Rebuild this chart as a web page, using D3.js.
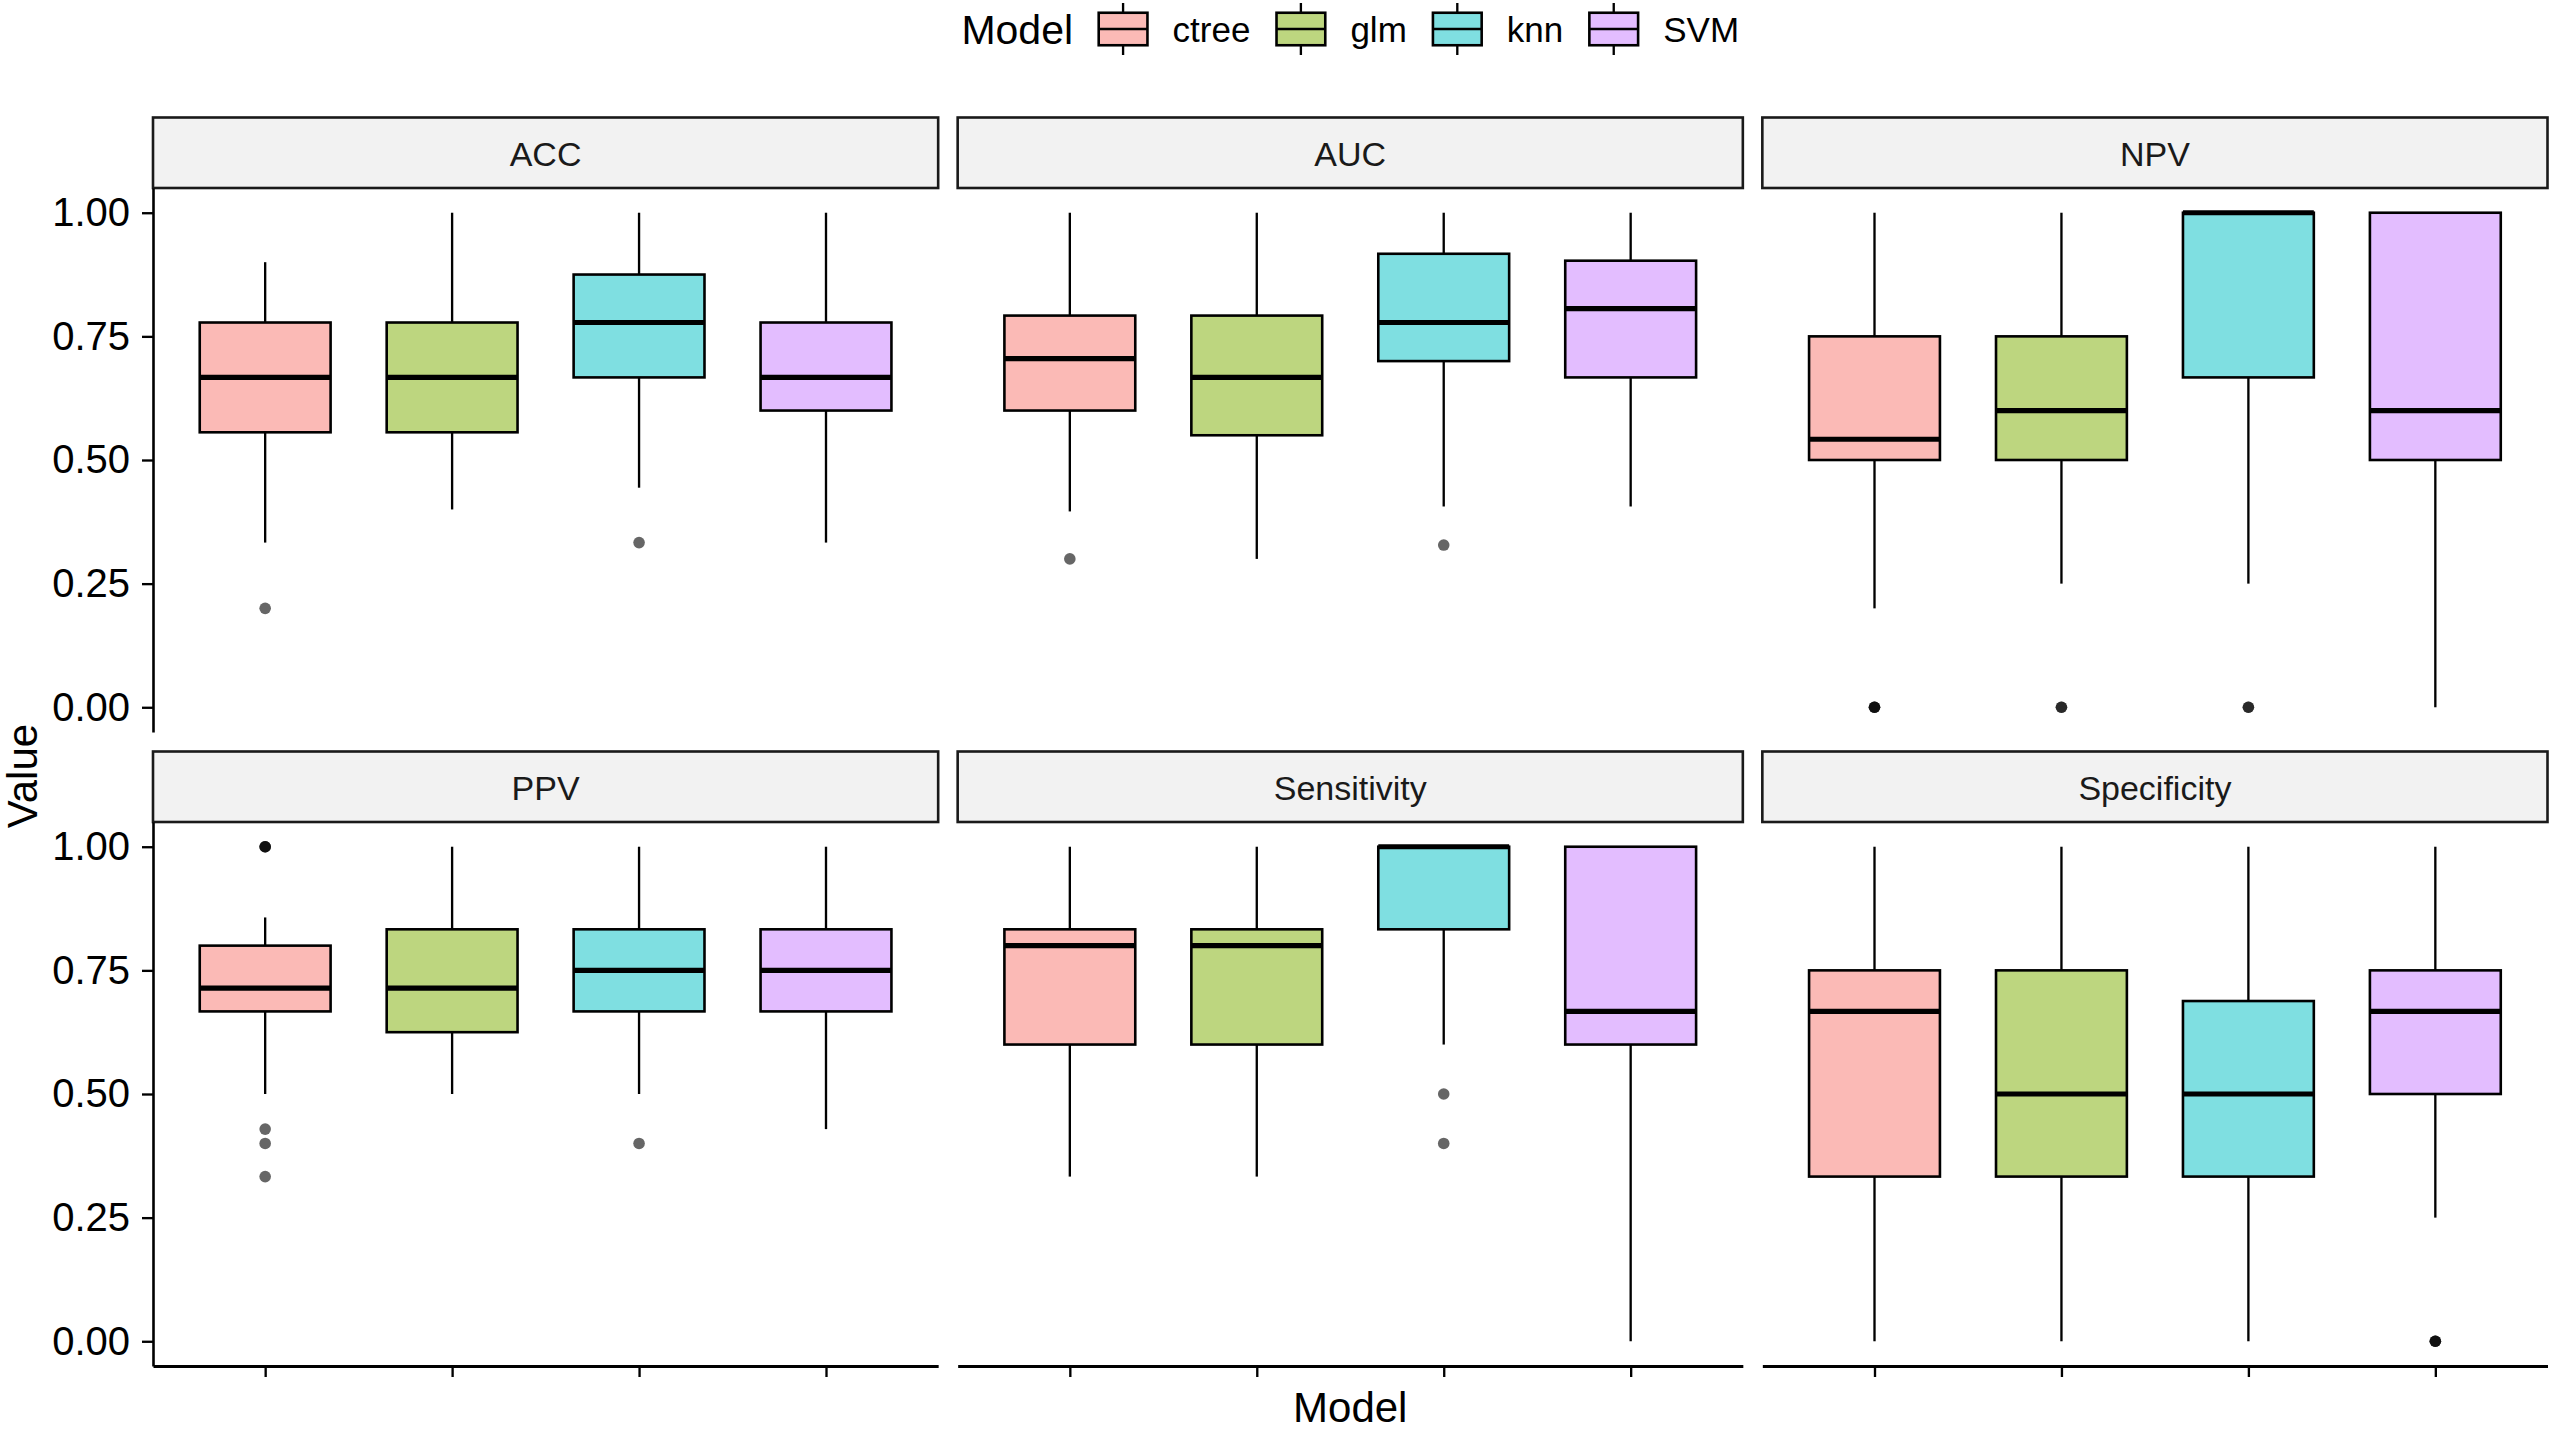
<!DOCTYPE html>
<html>
<head>
<meta charset="utf-8">
<script src="https://cdn.jsdelivr.net/npm/d3@7"></script>
<style>
  html, body { margin: 0; padding: 0; background: #fff; }
  svg { display: block; font-family: "Liberation Sans", Arial, sans-serif; }
</style>
</head>
<body>
<svg id="chart" width="2559" height="1431"></svg>
<script>
// ---------------- data ----------------
const models = ["ctree", "glm", "knn", "SVM"];
const modelColors = ["#F8766D", "#7CAE00", "#00BFC4", "#C77CFF"];
const metrics = ["ACC", "AUC", "NPV", "PPV", "Sensitivity", "Specificity"];
const yTickValues = [0, 0.25, 0.5, 0.75, 1];

// per model: [lower whisker, Q1, median, Q3, upper whisker]
const ACC = [[0.333, 0.556, 0.667, 0.778, 0.9], [0.4, 0.556, 0.667, 0.778, 1], [0.444, 0.667, 0.778, 0.875, 1], [0.333, 0.6, 0.667, 0.778, 1]];
const ACC_out = [[0.2], [], [0.333], []];
const AUC = [[0.396, 0.6, 0.705, 0.792, 1], [0.3, 0.55, 0.667, 0.792, 1], [0.406, 0.7, 0.778, 0.917, 1], [0.406, 0.667, 0.806, 0.903, 1]];
const AUC_out = [[0.3], [], [0.328], []];
const NPV = [[0.2, 0.5, 0.542, 0.75, 1], [0.25, 0.5, 0.6, 0.75, 1], [0.25, 0.667, 1, 1, 1], [0, 0.5, 0.6, 1, 1]];
const NPV_out = [[0, 0, 0], [0, 0], [0, 0], []];
const PPV = [[0.5, 0.667, 0.714, 0.8, 0.857], [0.5, 0.625, 0.714, 0.833, 1], [0.5, 0.667, 0.75, 0.833, 1], [0.429, 0.667, 0.75, 0.833, 1]];
const PPV_out = [[1, 1, 1, 0.429, 0.4, 0.333], [], [0.4], []];
const Sensitivity = [[0.333, 0.6, 0.8, 0.833, 1], [0.333, 0.6, 0.8, 0.833, 1], [0.6, 0.833, 1, 1, 1], [0, 0.6, 0.667, 1, 1]];
const Sensitivity_out = [[], [], [0.5, 0.4], []];
const Specificity = [[0, 0.333, 0.667, 0.75, 1], [0, 0.333, 0.5, 0.75, 1], [0, 0.333, 0.5, 0.688, 1], [0.25, 0.5, 0.667, 0.75, 1]];
const Specificity_out = [[], [], [], [0, 0, 0]];

const stats = { ACC, AUC, NPV, PPV, Sensitivity, Specificity };
const outliers = { ACC: ACC_out, AUC: AUC_out, NPV: NPV_out, PPV: PPV_out, Sensitivity: Sensitivity_out, Specificity: Specificity_out };

// ---------------- layout ----------------
const svg = d3.select("#chart");
const plotLeft = 153, plotRight = 2547.5, colGap = 19.5;
const panelW = (plotRight - plotLeft - 2 * colGap) / 3;
const stripH = 70.5, panelH = 544, rowGap = 19.5;
const firstStripTop = 117.5;
const boxWidthFrac = 0.7;
const lw = 2.6;

const color = d3.scaleOrdinal().domain(models).range(modelColors);

metrics.forEach((m, i) => {
  const col = i % 3, row = Math.floor(i / 3);
  const x0 = plotLeft + col * (panelW + colGap);
  const stripTop = firstStripTop + row * (stripH + panelH + rowGap);
  const pTop = stripTop + stripH, pBottom = pTop + panelH;

  const x = d3.scalePoint().domain(models).range([x0, x0 + panelW]).padding(0.6);
  const y = d3.scaleLinear().domain([-0.05, 1.05]).range([pBottom, pTop]);
  const bw = x.step() * boxWidthFrac;

  const g = svg.append("g");

  // strip
  g.append("rect").attr("x", x0).attr("y", stripTop).attr("width", panelW).attr("height", stripH)
    .attr("fill", "#F2F2F2").attr("stroke", "#1a1a1a").attr("stroke-width", lw);
  g.append("text").attr("x", x0 + panelW / 2).attr("y", stripTop + stripH / 2).attr("dy", "0.38em")
    .attr("text-anchor", "middle").attr("font-size", 34).attr("fill", "#1a1a1a").text(m);

  // boxes
  const data = stats[m].map((s, j) => ({ model: models[j], lo: s[0], q1: s[1], med: s[2], q3: s[3], hi: s[4], out: outliers[m][j] }));
  const bg = g.selectAll("g.box").data(data).join("g").attr("class", "box");
  // whiskers
  bg.append("line").attr("x1", d => x(d.model)).attr("x2", d => x(d.model))
    .attr("y1", d => y(d.q3)).attr("y2", d => y(d.hi)).attr("stroke", "#000").attr("stroke-width", lw * 0.9);
  bg.append("line").attr("x1", d => x(d.model)).attr("x2", d => x(d.model))
    .attr("y1", d => y(d.q1)).attr("y2", d => y(d.lo)).attr("stroke", "#000").attr("stroke-width", lw * 0.9);
  // box
  bg.append("rect").attr("x", d => x(d.model) - bw / 2).attr("width", bw)
    .attr("y", d => y(d.q3)).attr("height", d => y(d.q1) - y(d.q3))
    .attr("fill", d => color(d.model)).attr("fill-opacity", 0.5)
    .attr("stroke", "#000").attr("stroke-width", lw);
  // median
  bg.append("line").attr("x1", d => x(d.model) - bw / 2).attr("x2", d => x(d.model) + bw / 2)
    .attr("y1", d => y(d.med)).attr("y2", d => y(d.med)).attr("stroke", "#000").attr("stroke-width", lw * 2);
  // outliers
  bg.selectAll("circle").data(d => d.out.map(v => ({ model: d.model, v }))).join("circle")
    .attr("cx", d => x(d.model)).attr("cy", d => y(d.v)).attr("r", 5.8)
    .attr("fill", "#000").attr("fill-opacity", 0.6);

  // y axis (left column)
  if (col === 0) {
    const ya = g.append("g").attr("transform", `translate(${x0},0)`)
      .call(d3.axisLeft(y).tickValues(yTickValues).tickFormat(d3.format(".2f")).tickSize(11).tickSizeOuter(0).tickPadding(12));
    ya.select(".domain").attr("stroke", "#000").attr("stroke-width", lw);
    ya.selectAll(".tick line").attr("stroke", "#000").attr("stroke-width", lw * 0.9);
    ya.selectAll(".tick text").attr("font-size", 40).attr("fill", "#000").attr("font-family", "Liberation Sans, Arial, sans-serif");
  }
  // x axis (bottom row)
  if (row === 1) {
    const xa = g.append("g").attr("transform", `translate(0,${pBottom})`)
      .call(d3.axisBottom(x).tickFormat("").tickSize(11).tickSizeOuter(0));
    xa.select(".domain").attr("stroke", "#000").attr("stroke-width", lw * 1.2);
    xa.selectAll(".tick line").attr("stroke", "#000").attr("stroke-width", lw * 0.9);
  }
});

// axis titles
svg.append("text").attr("transform", "translate(37,776) rotate(-90)").attr("text-anchor", "middle")
  .attr("font-size", 42).attr("fill", "#000").text("Value");
svg.append("text").attr("x", (plotLeft + plotRight) / 2).attr("y", 1422).attr("text-anchor", "middle")
  .attr("font-size", 42).attr("fill", "#000").text("Model");

// legend
const keySize = 65, legY = 29;
const leg = svg.append("g");
let cx = 0;
const title = leg.append("text").attr("x", cx).attr("y", legY).attr("dy", "0.36em").attr("font-size", 41).attr("fill", "#000").text("Model");
cx += title.node().getComputedTextLength() + 17.5;
models.forEach((mdl, j) => {
  const kg = leg.append("g").attr("transform", `translate(${cx},${legY - keySize / 2})`);
  const mid = keySize / 2;
  kg.append("line").attr("x1", mid).attr("x2", mid).attr("y1", keySize * 0.1).attr("y2", keySize * 0.25).attr("stroke", "#000").attr("stroke-width", lw * 0.9);
  kg.append("line").attr("x1", mid).attr("x2", mid).attr("y1", keySize * 0.75).attr("y2", keySize * 0.9).attr("stroke", "#000").attr("stroke-width", lw * 0.9);
  kg.append("rect").attr("x", keySize * 0.125).attr("y", keySize * 0.25).attr("width", keySize * 0.75).attr("height", keySize * 0.5)
    .attr("fill", color(mdl)).attr("fill-opacity", 0.5).attr("stroke", "#000").attr("stroke-width", lw);
  kg.append("line").attr("x1", keySize * 0.125).attr("x2", keySize * 0.875).attr("y1", mid).attr("y2", mid).attr("stroke", "#000").attr("stroke-width", lw);
  cx += keySize + 17;
  const t = leg.append("text").attr("x", cx).attr("y", legY).attr("dy", "0.36em").attr("font-size", 35).attr("fill", "#000").text(mdl);
  cx += t.node().getComputedTextLength() + (j < models.length - 1 ? 18 : 0);
});
leg.attr("transform", `translate(${(plotLeft + plotRight) / 2 - cx / 2},0)`);
</script>
</body>
</html>
